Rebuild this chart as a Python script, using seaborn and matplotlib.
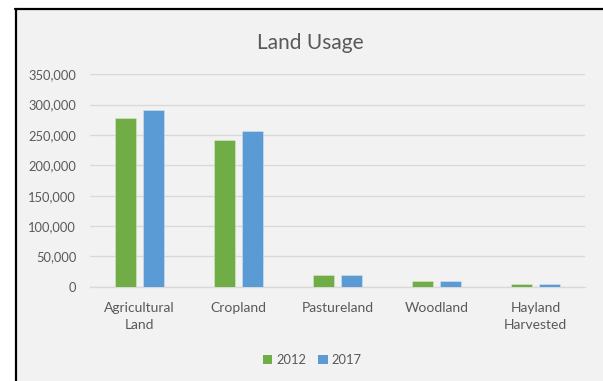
import matplotlib
matplotlib.use("Agg")
import matplotlib.pyplot as plt
from matplotlib.patches import Rectangle, Patch
from matplotlib.lines import Line2D
from matplotlib.ticker import FuncFormatter
import seaborn as sns
import pandas as pd

categories = ["Agricultural\nLand", "Cropland", "Pastureland", "Woodland", "Hayland\nHarvested"]
years = ["2012", "2017"]
values_2012 = [277500, 241300, 19800, 8900, 4900]
values_2017 = [290700, 256100, 19800, 8900, 4900]
colors = ["#70ad47", "#5b9bd5"]

df = pd.DataFrame({
    "category": categories * 2,
    "year": [years[0]] * len(categories) + [years[1]] * len(categories),
    "value": values_2012 + values_2017,
})

sns.set_theme(style="white")
plt.rcParams["font.family"] = ["Lato", "DejaVu Sans"]

W, H = 603, 381
fig = plt.figure(figsize=(W / 100, H / 100), dpi=100)
fig.patch.set_facecolor("white")

# chart area background and border
fig.patches.append(Rectangle((16.5 / W, 0), 1 - 16.5 / W, (H - 10) / H,
                             transform=fig.transFigure, facecolor="#f2f2f2",
                             edgecolor="none", zorder=-10))
fig.lines.append(Line2D([15.5 / W, 15.5 / W], [0, (H - 8.5) / H], transform=fig.transFigure,
                        color="black", linewidth=1.6, zorder=-5))
fig.lines.append(Line2D([14.7 / W, 1], [(H - 9) / H, (H - 9) / H], transform=fig.transFigure,
                        color="black", linewidth=1.6, zorder=-5))

ax = fig.add_axes([90 / W, (H - 286.7) / H, (585 - 90) / W, (286.7 - 74.3) / H])
ax.set_facecolor("none")

sns.barplot(data=df, x="category", y="value", hue="year", palette=colors,
            saturation=1, width=0.563, gap=0.22, ax=ax, edgecolor="#ffffff55",
            linewidth=0.6, zorder=3, legend=False)

ax.set_ylim(0, 350000)
ax.set_xlim(-0.5, len(categories) - 0.5)
ax.set_yticks(range(0, 350001, 50000))
ax.yaxis.set_major_formatter(FuncFormatter(lambda v, p: f"{int(v):,}"))
ax.grid(axis="y", color="#d9d9d9", linewidth=1.0, zorder=0)
ax.set_axisbelow(True)
for s in ["top", "right", "left"]:
    ax.spines[s].set_visible(False)
ax.spines["bottom"].set_color("#d9d9d9")
ax.spines["bottom"].set_linewidth(1.0)
ax.set_xlabel("")
ax.set_ylabel("")
ax.tick_params(axis="y", length=0, pad=10, labelsize=9.3, labelcolor="#595959")
ax.tick_params(axis="x", length=0, pad=11, labelsize=10, labelcolor="#595959")
for t in ax.get_xticklabels():
    t.set_linespacing(1.5)

fig.text(310 / W, (H - 43) / H, "Land Usage", ha="center", va="center",
         fontsize=15, color="#595959")

handles = [Patch(facecolor=c, edgecolor="none") for c in colors]
fig.legend(handles, years, loc="center", bbox_to_anchor=(312 / W, (H - 360) / H),
           ncol=2, frameon=False, fontsize=9.3, labelcolor="#595959",
           handlelength=0.75, handleheight=0.75, handletextpad=0.3,
           columnspacing=0.9, borderpad=0)

fig.savefig("out.png", dpi=100)
